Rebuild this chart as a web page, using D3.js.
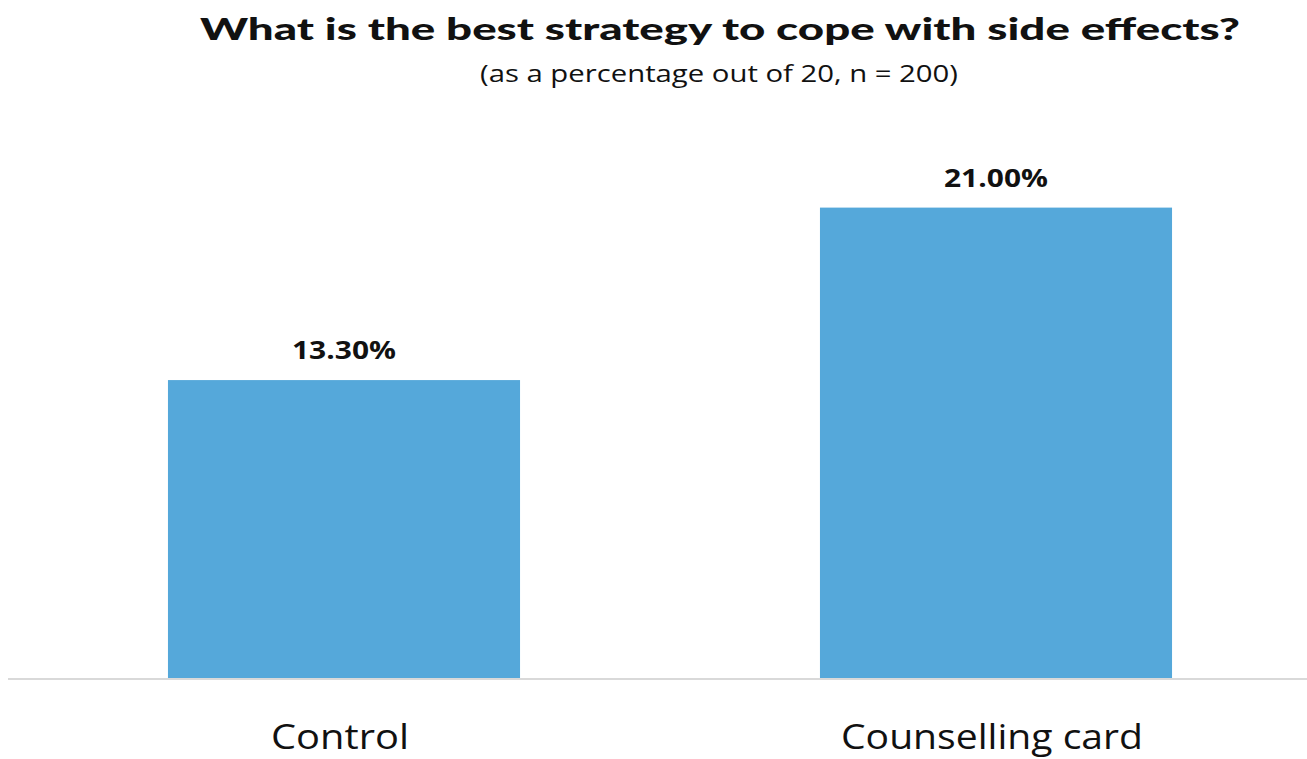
<!DOCTYPE html>
<html>
<head>
<meta charset="utf-8">
<script src="https://cdn.jsdelivr.net/npm/d3@7"></script>
<style>
  body { margin: 0; background: #fff; }
</style>
</head>
<body>
<svg id="bar_chart_svg" width="1307" height="759"></svg>
<script>
// chart data
const categories = ["Control", "Counselling card"];
const values = [13.30, 21.00];
const valueLabels = ["13.30%", "21.00%"];
const titleText = "What is the best strategy to cope with side effects?";
const subtitleText = "(as a percentage out of 20, n = 200)";

const svg_width = 1307;
const baseline_y = 678;
const px_per_unit = 22.4;

const svg = d3.select('#bar_chart_svg');

const xScale = d3.scaleBand()
    .domain(categories)
    .range([18, 1322])
    .paddingInner(0.46)
    .paddingOuter(0.23);

const yScale = d3.scaleLinear()
    .domain([0, 21])
    .range([baseline_y, baseline_y - 21 * px_per_unit]);

// title
svg.append("text")
    .attr("x", 720).attr("y", 40)
    .attr("text-anchor", "middle")
    .style("font-family", "Lato, 'Open Sans', sans-serif")
    .style("font-weight", 900)
    .style("font-size", "31px")
    .attr("textLength", 1040)
    .attr("lengthAdjust", "spacingAndGlyphs")
    .style("fill", "#111")
    .text(titleText);

svg.append("text")
    .attr("x", 719).attr("y", 82)
    .attr("text-anchor", "middle")
    .style("font-family", "'Open Sans', sans-serif")
    .style("font-size", "23px")
    .attr("textLength", 478)
    .attr("lengthAdjust", "spacingAndGlyphs")
    .style("fill", "#111")
    .text(subtitleText);

// baseline
svg.append("line")
    .attr("x1", 8).attr("x2", svg_width)
    .attr("y1", baseline_y + 1).attr("y2", baseline_y + 1)
    .style("stroke", "#d9d9d9")
    .style("stroke-width", 2);

// bars
svg.selectAll(".bar")
    .data(categories)
    .enter()
    .append("rect")
    .attr("class", "bar")
    .style("fill", "#55a8da")
    .attr("x", d => xScale(d))
    .attr("width", xScale.bandwidth())
    .attr("y", (d, i) => yScale(values[i]))
    .attr("height", (d, i) => yScale(0) - yScale(values[i]));

// value labels
svg.selectAll(".val")
    .data(categories)
    .enter()
    .append("text")
    .attr("class", "val")
    .attr("x", d => xScale(d) + xScale.bandwidth() / 2)
    .attr("y", (d, i) => yScale(values[i]) - 21)
    .attr("text-anchor", "middle")
    .style("font-family", "'Open Sans', sans-serif")
    .style("font-weight", 700)
    .style("font-size", "25px")
    .attr("textLength", 104)
    .attr("lengthAdjust", "spacingAndGlyphs")
    .style("fill", "#111")
    .text((d, i) => valueLabels[i]);

// category labels
const catWidths = [138, 302];
svg.selectAll(".cat")
    .data(categories)
    .enter()
    .append("text")
    .attr("class", "cat")
    .attr("x", d => xScale(d) + xScale.bandwidth() / 2 - 4)
    .attr("y", 749)
    .attr("text-anchor", "middle")
    .style("font-family", "'Open Sans', sans-serif")
    .style("font-size", "35px")
    .attr("textLength", (d, i) => catWidths[i])
    .attr("lengthAdjust", "spacingAndGlyphs")
    .style("fill", "#111")
    .text(d => d);
</script>
</body>
</html>
